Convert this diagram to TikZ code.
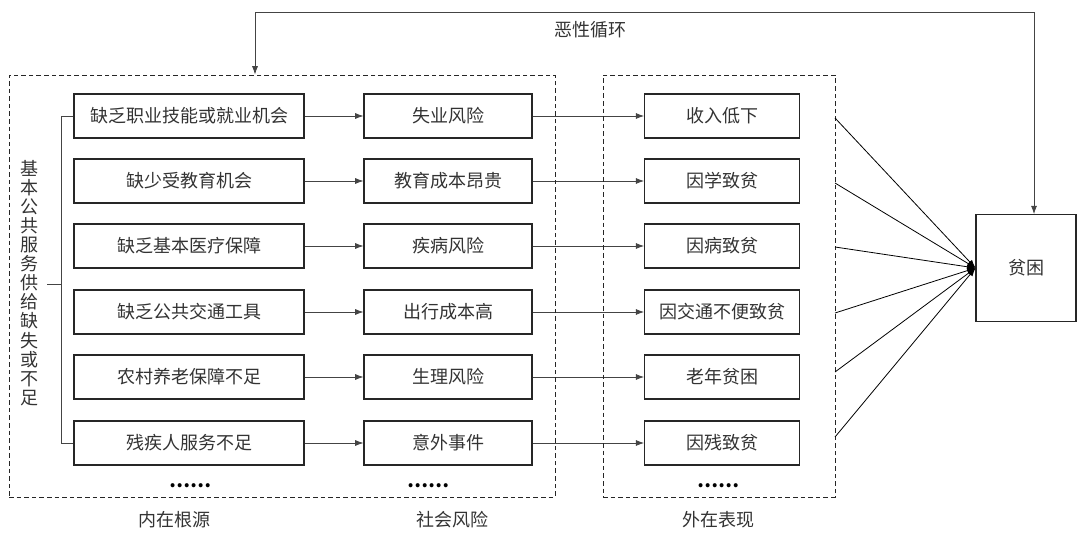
\documentclass[tikz,border=0pt]{standalone}
\usepackage{fontspec}
\setmainfont{Noto Sans CJK SC}
\usetikzlibrary{positioning,arrows.meta,fit,calc}
\definecolor{ink}{HTML}{333333}
\definecolor{wire}{HTML}{444444}
\definecolor{soft}{HTML}{888888}
\tikzset{
  cause/.style  = {rectangle, draw=black!85, line width=0.8pt, minimum width=172.5pt,
                   minimum height=33pt, inner sep=0pt, text=ink},
  risk/.style   = {cause, minimum width=126pt},
  sign/.style   = {cause, minimum width=116pt},
  frame/.style  = {draw=black!85, dashed, dash pattern=on 3.5pt off 2.2pt, line width=0.7pt, inner sep=0pt},
  flow/.style   = {-{Latex[length=2.2mm,width=1.6mm]}, line width=0.6pt, draw=wire},
  tag/.style    = {font=\fontsize{13.5}{15}\selectfont, text=ink},
  more/.style   = {font=\fontsize{14}{15}\selectfont\bfseries, text=black},
}

\begin{document}
\begin{tikzpicture}[x=0.75pt, y=0.75pt, font=\fontsize{13.5}{15}\selectfont]
  \useasboundingbox (0,0) rectangle (1080,-538);

  %% ---------------- three columns: causes, risks, signs -------------------------------------
  \foreach \n/\y/\a/\b/\c in {1/116/缺乏职业技能或就业机会/失业风险/收入低下,
                              2/181/缺少受教育机会/教育成本昂贵/因学致贫,
                              3/246/缺乏基本医疗保障/疾病风险/因病致贫,
                              4/312/缺乏公共交通工具/出行成本高/因交通不便致贫,
                              5/377/农村养老保障不足/生理风险/老年贫困,
                              6/443/残疾人服务不足/意外事件/因残致贫} {
    \node[cause] (c\n) at (189,-\y) {\a};
    \node[risk]  (r\n) at (448,-\y) {\b};
    \node[sign]  (s\n) at (722,-\y) {\c};
    \draw[flow] (c\n) -- (r\n);
    \draw[flow] (r\n) -- (s\n);
  }

  %% ---------------- dashed frames and their labels ------------------------------------------
  \node[frame, fit={(9,-75) (555,-497)}] (inner) {};
  \node[frame, fit={(603,-75) (835,-497)}] (outer) {};
  \node[more] (dots1) at (190,-486) {……};
  \node[more] (dots2) at (428,-486) {……};
  \node[more] (dots3) at (718,-486) {……};
  \node[tag] (root)  at (174,-520) {内在根源};
  \node[tag] (risks) at (452,-520) {社会风险};
  \node[tag] (signs) at (718,-520) {外在表现};

  %% ---------------- left bracket and side text ----------------------------------------------
  \node[tag, align=center, font=\fontsize{13.5}{14.3}\selectfont] (side) at (30,-283)
    {基\\本\\公\\共\\服\\务\\供\\给\\缺\\失\\或\\不\\足};
  \draw[line width=0.7pt, draw=wire] (c1.west) -- ++(-12,0) |- (c6.west);
  \coordinate (tick) at (47,-284);
  \coordinate (bx) at (62,-284);
  \draw[line width=0.7pt, draw=wire] (tick) -- (bx);

  %% ---------------- poverty and the fan into it ---------------------------------------------
  \node[rectangle, draw=black!85, line width=0.8pt, minimum width=75pt, minimum height=80pt,
        text=ink] (poor) at (1026,-268) {贫困};
  \foreach \i/\y in {1/118,2/183,3/247,4/313,5/372,6/437} {
    \coordinate (f\i) at (835,-\y);
    \draw[flow, draw=black] (f\i) -- (poor.west);
  }

  %% ---------------- vicious circle back to the roots ----------------------------------------
  \coordinate (loopL) at (255,-12);
  \coordinate (loopR) at (1034,-12);
  \draw[{Latex[length=2.2mm,width=1.6mm]}-{Latex[length=2.2mm,width=1.6mm]}, line width=0.6pt, draw=wire]
    (inner.north -| loopL) -- (loopL) -- (loopR) -- (poor.north -| loopR);
  \node[tag] (loop) at (590,-30) {恶性循环};
\end{tikzpicture}
\end{document}
